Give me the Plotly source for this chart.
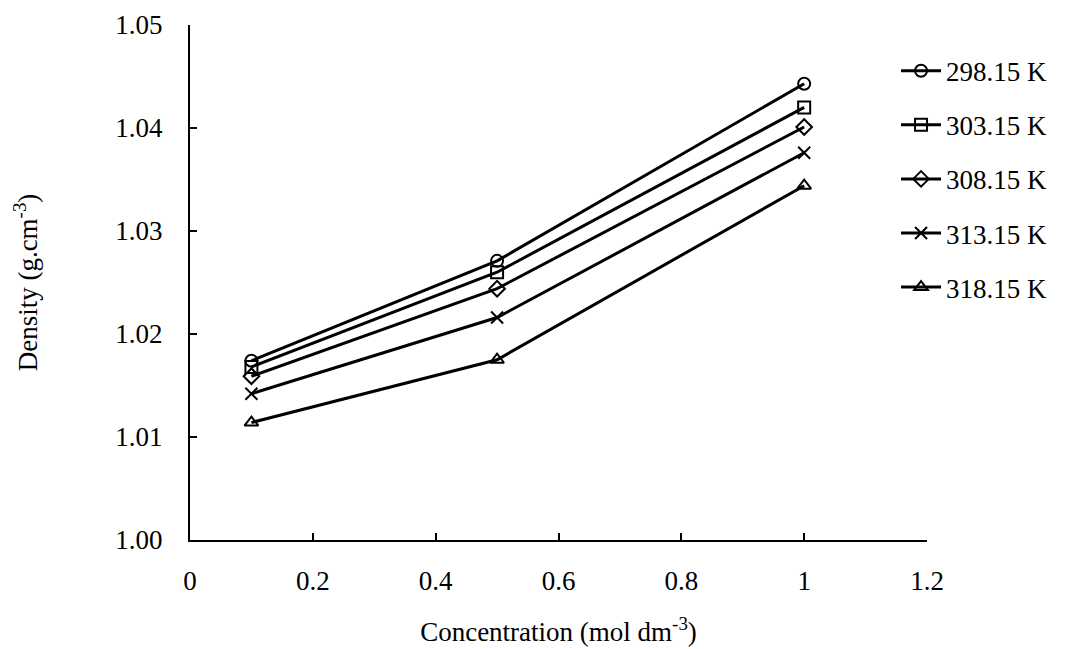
import plotly.graph_objects as go

concentration = [0.1, 0.5, 1.0]
temperatures = ["298.15 K", "303.15 K", "308.15 K", "313.15 K", "318.15 K"]
density_298 = [1.0174, 1.0271, 1.0443]
density_303 = [1.0168, 1.0260, 1.0420]
density_308 = [1.0159, 1.0244, 1.0401]
density_313 = [1.0142, 1.0216, 1.0376]
density_318 = [1.0114, 1.0175, 1.0344]
series = [density_298, density_303, density_308, density_313, density_318]
symbols = ["circle-open", "square-open", "diamond-open", "x-thin-open", "triangle-up-open"]

FONT = "Liberation Serif"
FS = 27

fig = go.Figure()
for i, (name, vals, sym) in enumerate(zip(temperatures, series, symbols)):
    fig.add_trace(go.Scatter(
        x=concentration, y=vals, name=name, mode="lines+markers",
        line=dict(color="black", width=3),
        marker=dict(symbol=sym, size=12, color="black",
                    line=dict(color="black", width=2)),
        legendgroup=f"g{i}",
    ))

fig.update_layout(
    width=1069, height=649,
    margin=dict(l=190, r=142, t=25, b=109),
    paper_bgcolor="white", plot_bgcolor="white",
    font=dict(family=FONT, size=FS, color="black"),
    showlegend=True,
    legend=dict(
        x=0.958, xanchor="left", y=0.958, yanchor="top",
        font=dict(family=FONT, size=FS, color="black"),
        traceorder="grouped", tracegroupgap=16,
        itemwidth=40, bgcolor="rgba(0,0,0,0)",
    ),
    xaxis=dict(
        range=[0, 1.2], tickvals=[0, 0.2, 0.4, 0.6, 0.8, 1.0, 1.2],
        showline=True, linecolor="black", linewidth=2, mirror=False,
        ticks="inside", ticklen=7, tickwidth=2, tickcolor="black",
        showgrid=False, zeroline=False, automargin=False,
        ticklabelstandoff=16,
        title=dict(text="Concentration (mol dm<sup>-3</sup>)", standoff=27,
                   font=dict(family=FONT, size=FS)),
    ),
    yaxis=dict(
        range=[1.00, 1.05], tickvals=[1.00, 1.01, 1.02, 1.03, 1.04, 1.05],
        tickformat=".2f",
        showline=True, linecolor="black", linewidth=2, mirror=False,
        ticks="inside", ticklen=7, tickwidth=2, tickcolor="black",
        showgrid=False, zeroline=False, automargin=False,
        ticklabelstandoff=20,
        title=dict(text="Density (g.cm<sup>-3</sup>)", standoff=70,
                   font=dict(family=FONT, size=FS)),
    ),
)

fig.write_html("out.html")
